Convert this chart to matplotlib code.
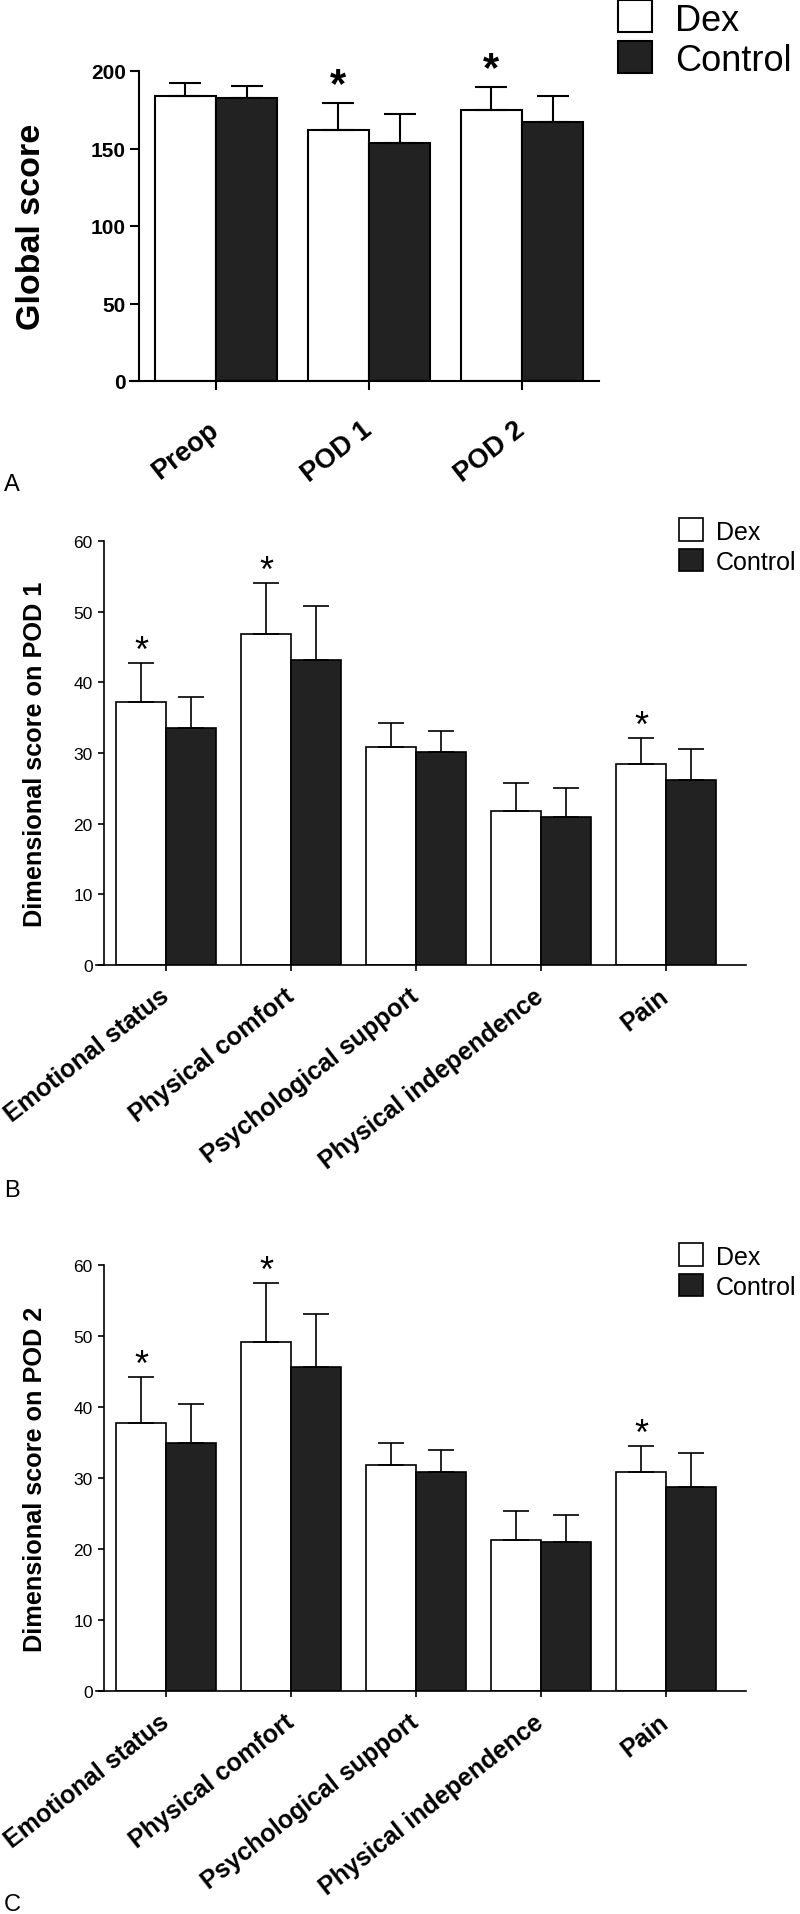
import matplotlib
matplotlib.use('Agg')
import matplotlib.pyplot as plt
from matplotlib.patches import Rectangle
from matplotlib.transforms import ScaledTranslation
import numpy as np

W, H, DPI = 800, 1915, 100

# ---------------- data ----------------
a_categories = ['Preop', 'POD 1', 'POD 2']
a_dex = [184.0, 162.0, 174.8]
a_dex_sd = [8.3, 17.5, 15.1]
a_ctrl = [182.6, 153.4, 167.4]
a_ctrl_sd = [7.7, 18.8, 16.4]
a_sig = [False, True, True]

dim_categories = ['Emotional status', 'Physical comfort', 'Psychological support',
                  'Physical independence', 'Pain']
b_dex = [37.2, 46.9, 30.9, 21.8, 28.5]
b_dex_sd = [5.6, 7.1, 3.4, 4.0, 3.6]
b_ctrl = [33.6, 43.2, 30.2, 20.9, 26.2]
b_ctrl_sd = [4.3, 7.6, 2.9, 4.1, 4.3]
b_sig = [True, True, False, False, True]

c_dex = [37.8, 49.2, 31.8, 21.3, 30.8]
c_dex_sd = [6.4, 8.3, 3.2, 4.0, 3.7]
c_ctrl = [34.9, 45.7, 30.8, 21.0, 28.7]
c_ctrl_sd = [5.5, 7.4, 3.2, 3.8, 4.8]
c_sig = [True, True, False, False, True]

series_names = ['Dex', 'Control']
panel_letters = ['A', 'B', 'C']
a_ylabel = 'Global score'
b_ylabel = 'Dimensional score on POD 1'
c_ylabel = 'Dimensional score on POD 2'
a_yticks = [0, 50, 100, 150, 200]
bc_yticks = [0, 10, 20, 30, 40, 50, 60]

# ---------------- style ----------------
plt.rcParams['font.family'] = ['Liberation Sans', 'DejaVu Sans']
NARROW = ['Liberation Sans Narrow', 'Liberation Sans', 'DejaVu Sans']
DARK = '#222222'
ROT = 38

fig = plt.figure(figsize=(W / DPI, H / DPI), dpi=DPI)


def px_axes(left, top, right, bottom):
    return fig.add_axes([left / W, 1 - bottom / H, (right - left) / W, (bottom - top) / H])


def fx(x):
    return x / W


def fy(y):
    return 1 - y / H


def draw_panel(ax, cats, dex, dex_sd, ctrl, ctrl_sd, sig, ymax, yticks, xlim,
               lw, capsize, ticklen, tick_fs, tick_bold, cat_fs, cat_pad, cat_dx,
               ylabel, ylabel_fs, ylabel_x_px, ax_left_px, ax_w_px,
               star_fs, star_off, star_bold):
    x = np.arange(len(cats))
    w = 0.4
    ax.bar(x - w, dex, width=w, align='edge', color='white', edgecolor='black',
           linewidth=lw, zorder=2)
    ax.bar(x, ctrl, width=w, align='edge', color=DARK, edgecolor='black',
           linewidth=lw, zorder=2)
    ax.errorbar(x - w / 2, dex, yerr=[np.zeros(len(dex)), dex_sd], fmt='none',
                ecolor='black', elinewidth=lw, capsize=capsize, capthick=lw, zorder=3)
    ax.errorbar(x + w / 2, ctrl, yerr=[np.zeros(len(ctrl)), ctrl_sd], fmt='none',
                ecolor='black', elinewidth=lw, capsize=capsize, capthick=lw, zorder=3)
    for xi, v, s, flag in zip(x, dex, dex_sd, sig):
        if flag:
            ax.annotate('*', xy=(xi - w / 2, v + s), xytext=(0, star_off),
                        textcoords='offset points', ha='center', va='baseline',
                        fontsize=star_fs, fontweight='bold' if star_bold else 'normal')
    ax.set_xlim(*xlim)
    ax.set_ylim(0, ymax)
    ax.spines['top'].set_visible(False)
    ax.spines['right'].set_visible(False)
    ax.spines['left'].set_position(('data', -0.5))
    ax.spines['left'].set_bounds(0, ymax)
    ax.spines['left'].set_linewidth(lw)
    ax.spines['bottom'].set_linewidth(lw)
    ax.set_yticks(yticks)
    ax.set_yticklabels([str(t) for t in yticks], family=NARROW, fontsize=tick_fs,
                       fontweight='bold' if tick_bold else 'normal')
    ax.set_xticks(x)
    ax.set_xticklabels(cats, rotation=ROT, ha='right', va='center',
                       rotation_mode='anchor', fontsize=cat_fs, fontweight='bold')
    shift = ScaledTranslation(cat_dx / DPI, 0, fig.dpi_scale_trans)
    for lab in ax.get_xticklabels():
        lab.set_transform(lab.get_transform() + shift)
    ax.tick_params(axis='y', direction='out', length=ticklen, width=lw, pad=3.2)
    ax.tick_params(axis='x', direction='out', length=ticklen, width=lw, pad=cat_pad)
    ax.set_ylabel(ylabel, fontsize=ylabel_fs, fontweight='bold')
    ax.yaxis.set_label_coords((ylabel_x_px - ax_left_px) / ax_w_px, 0.5)
    ax.set_facecolor('none')


# ---- Panel A ----
axA = px_axes(130, 72, 599, 382)
draw_panel(axA, a_categories, a_dex, a_dex_sd, a_ctrl, a_ctrl_sd, a_sig, 200, a_yticks,
           (-0.562, 2.503), lw=1.5, capsize=11.5, ticklen=6.5, tick_fs=15, tick_bold=True,
           cat_fs=19.5, cat_pad=26, cat_dx=4, ylabel=a_ylabel, ylabel_fs=24.5, ylabel_x_px=47,
           ax_left_px=130, ax_w_px=469, star_fs=30, star_off=5, star_bold=True)

# ---- Panel B ----
axB = px_axes(96, 542, 746, 966)
draw_panel(axB, dim_categories, b_dex, b_dex_sd, b_ctrl, b_ctrl_sd, b_sig, 60, bc_yticks,
           (-0.56, 4.64), lw=1.2, capsize=9.4, ticklen=4.5, tick_fs=12.5, tick_bold=False,
           cat_fs=18, cat_pad=15.5, cat_dx=12, ylabel=b_ylabel, ylabel_fs=18.2, ylabel_x_px=47,
           ax_left_px=96, ax_w_px=650, star_fs=26, star_off=1.5, star_bold=False)

# ---- Panel C ----
axC = px_axes(96, 1266, 746, 1692)
draw_panel(axC, dim_categories, c_dex, c_dex_sd, c_ctrl, c_ctrl_sd, c_sig, 60, bc_yticks,
           (-0.56, 4.64), lw=1.2, capsize=9.4, ticklen=4.5, tick_fs=12.5, tick_bold=False,
           cat_fs=18, cat_pad=15.5, cat_dx=12, ylabel=c_ylabel, ylabel_fs=18.2, ylabel_x_px=47,
           ax_left_px=96, ax_w_px=650, star_fs=26, star_off=1.5, star_bold=False)


# ---- manual legends ----
def legend(box_x0, box_x1, rows, text_x, fs, lw):
    colors = ['white', DARK]
    for (y0, y1, base), name, col in zip(rows, series_names, colors):
        fig.patches.append(Rectangle((fx(box_x0), fy(y1)), fx(box_x1) - fx(box_x0),
                                     fy(y0) - fy(y1), transform=fig.transFigure,
                                     facecolor=col, edgecolor='black', linewidth=lw))
        fig.text(fx(text_x), fy(base), name, family=NARROW, fontsize=fs,
                 ha='left', va='baseline')


legend(618, 652, [(1, 33, 31), (42, 74, 71)], 675, 26, 1.5)
legend(679, 703, [(519, 542, 540), (550, 572, 570)], 716, 18, 1.2)
legend(679, 703, [(1244, 1267, 1265), (1275, 1297, 1295)], 716, 18, 1.2)

# ---- panel letters ----
for letter, yc in zip(panel_letters, [485, 1191, 1905]):
    fig.text(fx(4), fy(yc), letter, fontsize=17, ha='left', va='center',
             family=NARROW)

fig.savefig('out.png', dpi=DPI)
